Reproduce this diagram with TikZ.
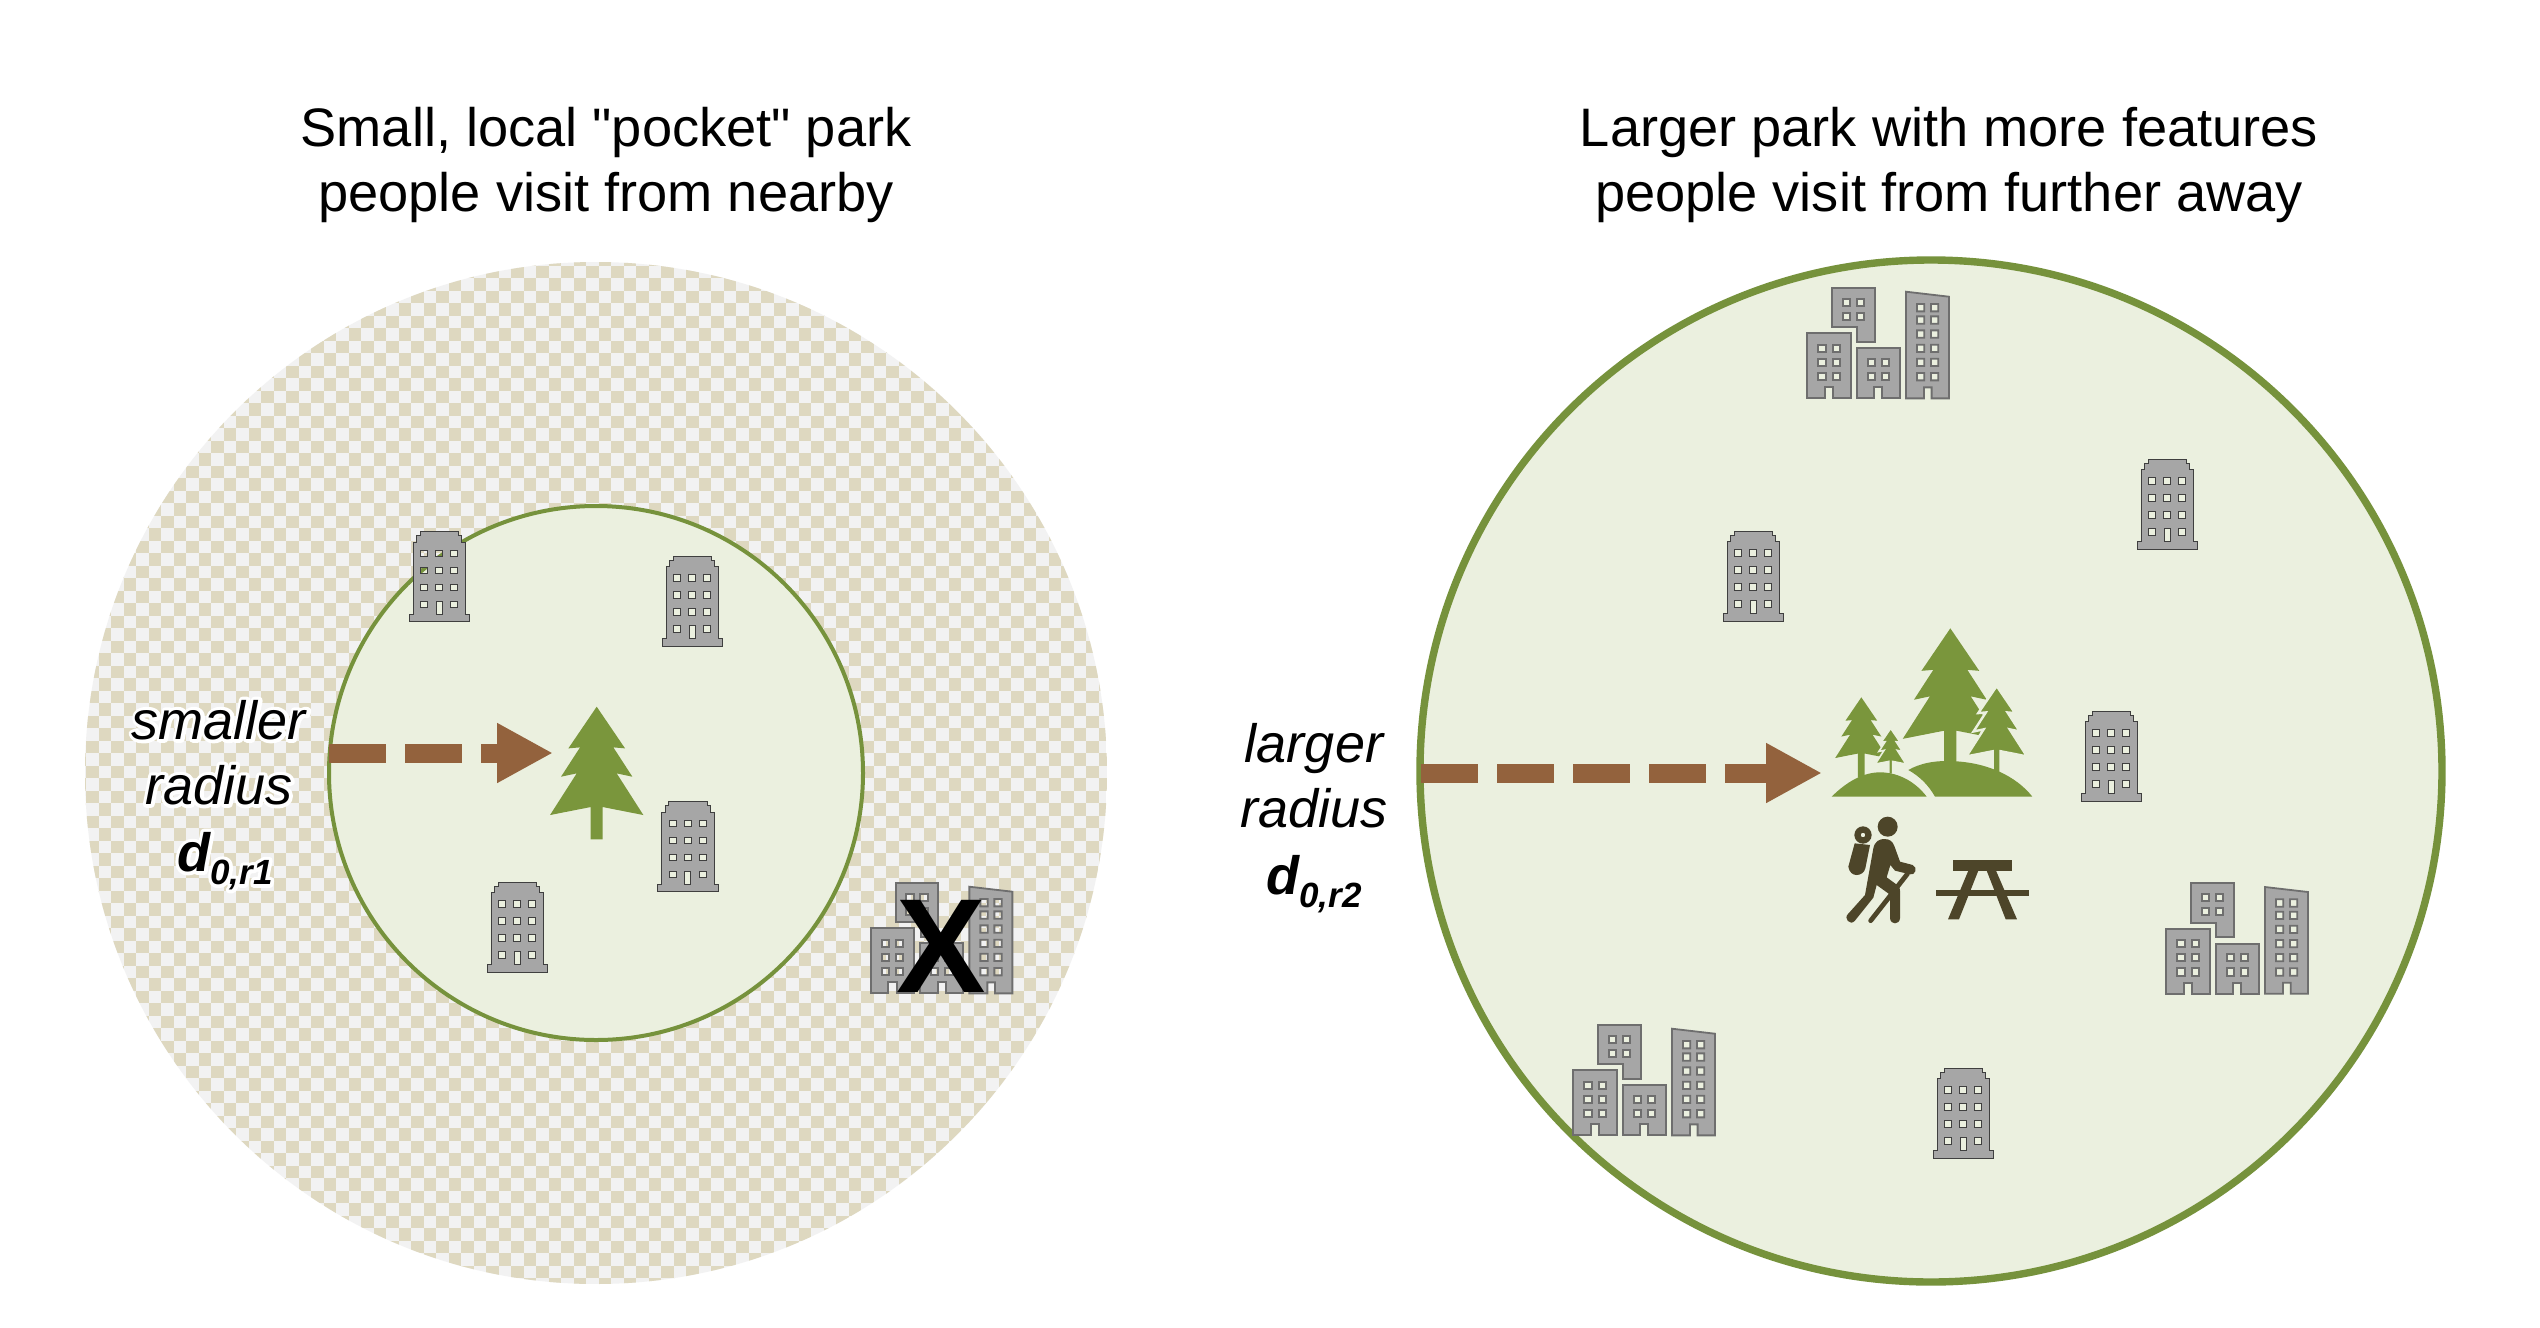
\documentclass[tikz,border=0pt]{standalone}
\usepackage{fontspec}
\setmainfont{Liberation Sans}
\font\plainquote="Liberation Sans" at 27.1pt
\usetikzlibrary{arrows.meta}
\definecolor{parkbg}{HTML}{EBF0DF}
\definecolor{parkgreen}{HTML}{76923C}
\definecolor{treegreen}{HTML}{7A963C}
\definecolor{pathbrown}{HTML}{93623D}
\definecolor{checkdark}{HTML}{DED8C0}
\definecolor{checklight}{HTML}{F2F2F2}
\definecolor{bldgrey}{HTML}{A6A6A6}
\definecolor{bldline}{HTML}{3F3F3F}
\definecolor{clusterline}{HTML}{6E6E6E}
\definecolor{hikerdark}{HTML}{4D4529}
\tikzset{
  titletext/.style={font=\fontsize{27.1}{32.5}\selectfont,align=center,inner sep=0pt},
  radiustext/.style={font=\fontsize{27}{32.5}\selectfont\itshape,align=center,inner sep=0pt},
  xmark/.style={font=\fontsize{67}{67}\selectfont\bfseries,inner sep=0pt},
  distarrow/.style={draw=pathbrown,line width=9.5pt,dash pattern=on 28.5pt off 9.5pt,-{Triangle[length=28pt,width=28pt,fill=pathbrown]}},
  bldshape/.style={fill=bldgrey,draw=bldline,line width=0.5pt,even odd rule},
  clustershape/.style={fill=bldgrey,draw=clusterline,line width=0.9pt,even odd rule},
  treeshape/.style={fill=treegreen},
}
\newcommand{\halotxt}[1]{\rlap{\special{pdf:code 1 Tr 3.5 w 1 1 1 RG 1 j 1 J}#1\special{pdf:code 0 Tr 1 w 0 0 0 RG 0 j 0 J}}#1}
\newcommand{\dlabel}[1]{{\bfseries\itshape d\raisebox{-6.5pt}{\fontsize{17.5}{17.5}\selectfont #1}}}
\newcommand{\pinepath}[1]{(0,0)--(85,125)--(50,122)--(107,210)--(60,200)--(140,325)--(18,301)--(18,#1)--(-18,#1)--(-18,301)--(-140,325)--(-60,200)--(-107,210)--(-50,122)--(-85,125)--cycle}
\newcommand{\bldg}[2]{%
  \begin{scope}[shift={(#1,#2)},scale=0.33333]
  \path[bldshape] (-57,0)--(58,0)--(58,12)--(68,12)--(68,32)--(79,32)--(79,247)--(91,247)--(91,270)--(-90,270)--(-90,247)--(-78,247)--(-78,32)--(-67,32)--(-67,12)--(-57,12)--cycle
    \foreach \wx in {-45,0,45}{\foreach \wy in {65,116,167}{(\wx-10,\wy-10) rectangle (\wx+10,\wy+10)}}
    \foreach \wx in {-45,45}{(\wx-10,208) rectangle (\wx+10,228)}
    (-9,208) rectangle (9,247);
  \end{scope}}
\newcommand{\cluster}[2]{%
  \begin{scope}[shift={(#1,#2)},scale=0.33333]
  \path[clustershape] (0,137)--(130,137)--(130,332)--(78,332)--(78,299)--(53,299)--(53,332)--(0,332)--cycle
    \foreach \wx in {44,87}{\foreach \wy in {182,224,267}{(\wx-11,\wy-11) rectangle (\wx+11,\wy+11)}};
  \path[clustershape] (75,0)--(203,0)--(203,162)--(150,162)--(150,119)--(75,119)--cycle
    \foreach \wx in {118,160}{\foreach \wy in {44,86}{(\wx-11,\wy-11) rectangle (\wx+11,\wy+11)}};
  \path[clustershape] (148,182)--(278,182)--(278,332)--(225,332)--(225,299)--(201,299)--(201,332)--(148,332)--cycle
    \foreach \wx in {192,235}{\foreach \wy in {224,267}{(\wx-11,\wy-11) rectangle (\wx+11,\wy+11)}};
  \path[clustershape] (296,12)--(425,27)--(425,332)--(373,332)--(373,299)--(350,299)--(350,332)--(296,332)--cycle
    \foreach \wx in {340,382}{\foreach \wy in {60,97,139,182,224,267}{(\wx-11,\wy-11) rectangle (\wx+11,\wy+11)}};
  \end{scope}}
\begin{document}
\begin{tikzpicture}[x=0.5pt,y=-0.5pt]
\useasboundingbox (0,0) rectangle (2540,1328);
\fill[white] (0,0) rectangle (2540,1328);
% left catchment
\begin{scope}
  \clip (596,773) circle [radius=511];
  \fill[checklight] (85,262) rectangle (1107,1284);
  \foreach \r in {0,...,82}{
    \pgfmathsetmacro{\yy}{253+12.5*\r+6.25}
    \pgfmathtruncatemacro{\odd}{mod(\r,2)}
    \ifnum\odd=1
      \draw[checkdark,line width=6.25pt,dash pattern=on 6.25pt off 6.25pt] (86,\yy) -- (1110,\yy);
    \else
      \draw[checkdark,line width=6.25pt,dash pattern=on 6.25pt off 6.25pt] (73.5,\yy) -- (1110,\yy);
    \fi
  }
\end{scope}
\draw[fill=parkbg,draw=parkgreen,line width=2pt] (596,773) circle [radius=267];
% right catchment
\draw[fill=parkbg,draw=parkgreen,line width=3.7pt] (1931,771) circle [radius=511];
% buildings left
\bldg{439}{531.7}
\bldg{692.3}{556}
\bldg{687.8}{801.7}
\bldg{517}{882.3}
\cluster{870.7}{882.7}
\node[xmark] (xm) at (940.7,946) {X};
% buildings right
\cluster{1807.3}{287.7}
\bldg{1753}{531}
\bldg{2167}{459}
\bldg{2111}{711}
\bldg{1963}{1068.3}
\cluster{2166.3}{883}
\cluster{1573.3}{1024.7}
% single tree
\begin{scope}[shift={(596.7,706.7)},scale=0.33333]
  \fill[treeshape] \pinepath{398};
\end{scope}
% tree group
\begin{scope}[shift={(1780,600)},scale=0.33333]
  \begin{scope}[shift={(511,85)},scale=1.02]\fill[treeshape] \pinepath{398};\end{scope}
  \begin{scope}[shift={(650,258)},scale=0.65]\path[treeshape,draw=parkbg,line width=1.2pt] \pinepath{410};\end{scope}
  \begin{scope}[shift={(244,292)},scale=0.56]\fill[treeshape] \pinepath{430};\end{scope}
  \begin{scope}[shift={(332,385)},scale=0.33]\path[treeshape,draw=parkbg,line width=0.8pt] \pinepath{420};\end{scope}
  \fill[treeshape] (155,590) .. controls (200,545) and (250,517) .. (300,517) .. controls (360,517) and (410,550) .. (440,590) -- cycle;
  \fill[treeshape] (385,510) .. controls (420,490) and (460,483) .. (500,483) .. controls (620,483) and (710,530) .. (757,590) -- (465,590) .. controls (445,555) and (420,530) .. (385,510) -- cycle;
  % hiker
  \fill[hikerdark] (323,680) circle [radius=30];
  \fill[hikerdark,even odd rule] (249,705) circle [radius=26] (249,705) circle [radius=7];
  \fill[hikerdark] (224,730) -- (270,735) -- (256,805) .. controls (250,830) and (210,835) .. (205,800) -- cycle;
  \fill[hikerdark] (280,745) .. controls (285,722) and (300,717) .. (313,717) .. controls (330,717) and (338,725) .. (343,738) -- (360,785) -- (398,795) .. controls (415,802) and (405,828) .. (390,823) -- (345,812) -- (331,795) -- (320,832) -- (353,856) .. controls (358,860) and (360,865) .. (360,872) -- (360,955) .. controls (358,975) and (332,975) .. (330,955) -- (330,884) -- (290,855) -- (280,893) -- (224,963) .. controls (210,978) and (190,955) .. (204,942) -- (255,885) -- cycle;
  \draw[hikerdark,line width=2.4pt,line cap=round] (382,822) -- (272,962);
  % table
  \fill[hikerdark] (519,780) rectangle (696,812);
  \fill[hikerdark] (468,869) rectangle (747,889);
  \fill[hikerdark] (565,812) -- (595,812) -- (537,958) -- (504,958) -- cycle;
  \fill[hikerdark] (620,812) -- (648,812) -- (711,958) -- (677,958) -- cycle;
\end{scope}
% arrows
\coordinate (a1s) at (329,753);
\coordinate (a1e) at (553,753);
\coordinate (a2s) at (1421,773);
\coordinate (a2e) at (1822,773);
\draw[distarrow] (a1s) -- (a1e);
\draw[distarrow] (a2s) -- (a2e);
% texts
\node[titletext] (t1) at (606,165) {Small, local {\plainquote"}pocket{\plainquote"} park\\people visit from nearby};
\node[titletext] (t2) at (1949,165) {Larger park with more features\\people visit from further away};
\node[radiustext] (l1) at (219,795) {\halotxt{smaller}\\\halotxt{radius}\\[1pt]\hspace*{6pt}\halotxt{\dlabel{0,r1}}};
\node[radiustext] (l2) at (1314,818) {larger\\radius\\[1pt]\dlabel{0,r2}};
\end{tikzpicture}
\end{document}
